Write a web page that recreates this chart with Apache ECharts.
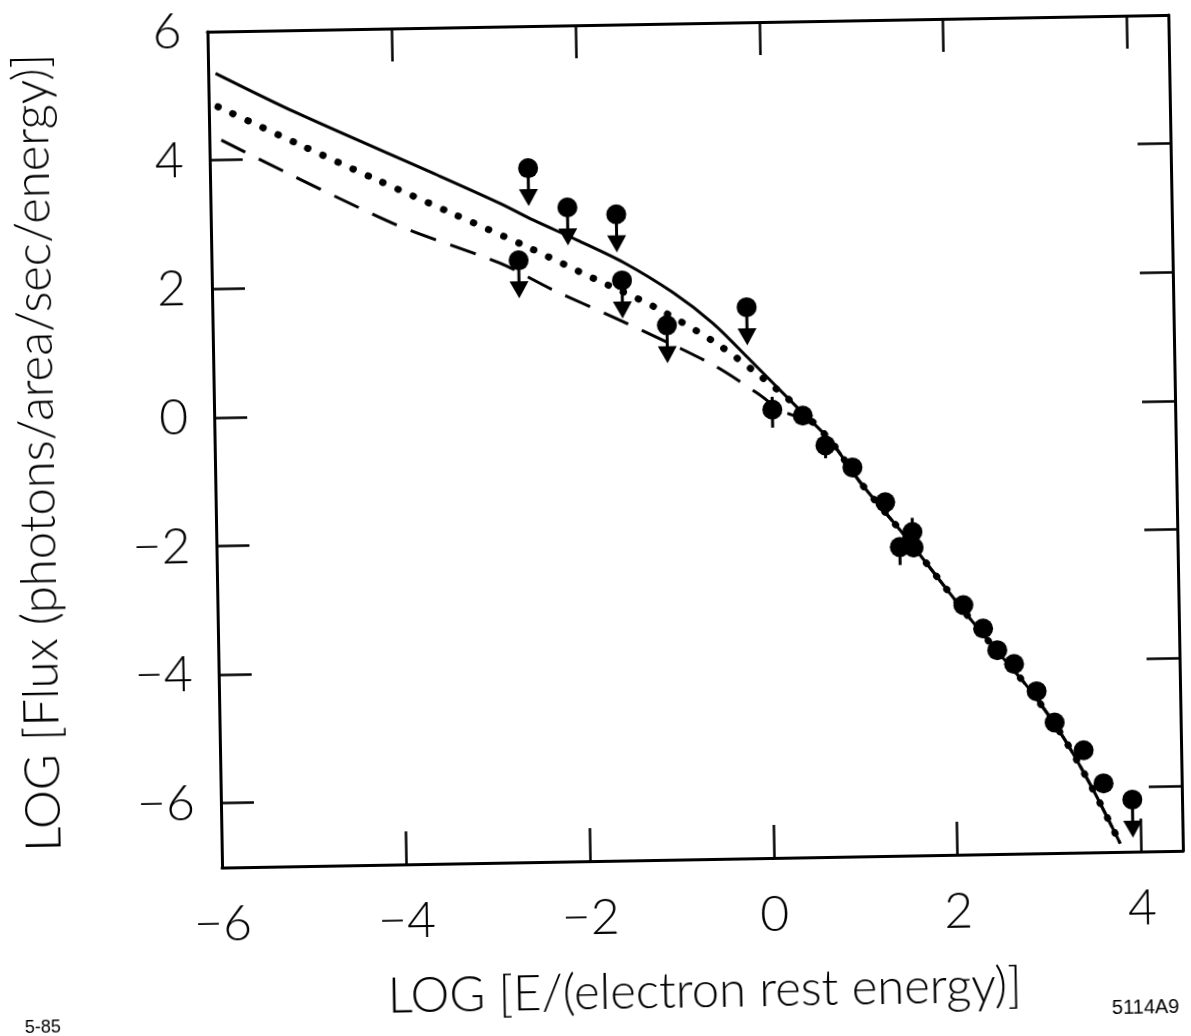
<!DOCTYPE html>
<html><head><meta charset="utf-8">
<script src="https://cdn.jsdelivr.net/npm/echarts@6/dist/echarts.min.js"></script>
<style>
html,body{margin:0;padding:0;background:#fff;overflow:hidden;}
#chart{width:1191px;height:1036px;transform:rotate(-1deg);transform-origin:50% 50%;}
</style></head><body><div id="chart"></div>
<script>
// Axis ticks / labels
const xTickValues = [-4, -2, 0, 2, 4];
const xLabelValues = [-6, -4, -2, 0, 2, 4];
const yTickValues = [-6, -4, -2, 0, 2, 4];
const yLabelValues = [-6, -4, -2, 0, 2, 4, 6];

// Model curves [logE, logFlux]
const solidCurve = [[-5.92,5.35],[-5.04,4.71],[-3.53,3.71],[-2.85,3.25],[-2.49,2.98],[-2.02,2.66],[-1.52,2.30],[-0.99,1.82],[-0.56,1.33],[-0.19,0.79],[0.34,0.0],[0.69,-0.52],[1.01,-1.18],[1.51,-2.07],[2.08,-3.15],[2.43,-3.78],[2.82,-4.46],[3.17,-5.20],[3.49,-6.04],[3.77,-6.87]];
const dottedCurve = [[-5.90,4.83],[-5.05,4.24],[-4.20,3.66],[-3.36,3.10],[-2.51,2.53],[-1.85,2.06],[-1.18,1.59],[-0.54,1.03],[-0.11,0.56],[0.30,0.06],[0.69,-0.52],[1.01,-1.18],[1.51,-2.07],[2.08,-3.15],[2.43,-3.78],[2.82,-4.46],[3.17,-5.20],[3.49,-6.04],[3.77,-6.87]];
const dashedCurve = [[-5.87,4.31],[-4.02,2.97],[-2.86,2.32],[-2.29,1.89],[-1.64,1.45],[-0.60,0.71],[-0.09,0.23],[0.16,-0.04],[0.45,-0.22],[0.69,-0.52],[1.01,-1.18],[1.51,-2.07],[2.08,-3.15],[2.43,-3.78],[2.82,-4.46],[3.17,-5.20],[3.49,-6.04],[3.77,-6.87]];

// Upper limits [logE, logFlux]
const upperLimits = [[-2.54,3.79],[-2.12,3.17],[-1.59,3.05],[-2.66,2.36],[-1.54,2.02],[-1.06,1.31],[-0.19,1.57],[3.91,-6.19]];
// Detections [logE, logFlux, errUp, errDown]
const detections = [[0.07,-0.03,0.2,0.28],[0.40,-0.13,0,0],[0.64,-0.60,0,0.2],[0.93,-0.95,0,0],[1.28,-1.50,0,0],[1.57,-1.97,0.22,0],[1.43,-2.20,0,0.28],[1.58,-2.21,0,0.15],[2.11,-3.12,0,0],[2.32,-3.49,0,0],[2.47,-3.83,0,0],[2.65,-4.05,0,0],[2.89,-4.48,0,0],[3.08,-4.97,0,0],[3.39,-5.41,0,0],[3.60,-5.93,0,0]];

const FONT = 'Lato';
const fmt = v => (v < 0 ? '\u2212' + Math.abs(v) : String(v));
const axisLineStyle = {color:'#000', width:3};
const tickStyle = {color:'#000', width:2.5};

const chart = echarts.init(document.getElementById('chart'), null, {renderer:'canvas'});
chart.setOption({
  backgroundColor:'#fff',
  animation:false,
  grid:{left:216, right:14, top:25, bottom:175},
  xAxis:[{
    type:'value', min:-6, max:4.45, position:'bottom',
    name:'LOG [E/(electron rest energy)]', nameLocation:'middle', nameGap:108,
    nameTextStyle:{fontFamily:FONT, fontSize:49, fontWeight:300, color:'#000'},
    axisLine:{show:true, onZero:false, lineStyle:axisLineStyle},
    axisTick:{show:true, inside:true, length:33, lineStyle:tickStyle, customValues:xTickValues},
    axisLabel:{show:true, customValues:xLabelValues, formatter:fmt, margin:32,
      fontFamily:FONT, fontSize:50, fontWeight:300, color:'#000'},
    splitLine:{show:false}
  },{
    type:'value', min:-6, max:4.45, position:'top',
    axisLine:{show:true, onZero:false, lineStyle:axisLineStyle},
    axisTick:{show:true, inside:true, length:33, lineStyle:tickStyle, customValues:xTickValues},
    axisLabel:{show:false}, splitLine:{show:false}
  }],
  yAxis:[{
    type:'value', min:-7, max:6, position:'left',
    name:'LOG [Flux (photons/area/sec/energy)]', nameLocation:'middle', nameGap:152, nameRotate:90,
    nameTextStyle:{fontFamily:FONT, fontSize:49, fontWeight:300, color:'#000'},
    axisLine:{show:true, onZero:false, lineStyle:axisLineStyle},
    axisTick:{show:true, inside:true, length:33, lineStyle:tickStyle, customValues:yTickValues},
    axisLabel:{show:true, customValues:yLabelValues, formatter:fmt, margin:26,
      fontFamily:FONT, fontSize:50, fontWeight:300, color:'#000'},
    splitLine:{show:false}
  },{
    type:'value', min:-7, max:6, position:'right',
    axisLine:{show:true, onZero:false, lineStyle:axisLineStyle},
    axisTick:{show:true, inside:true, length:33, lineStyle:tickStyle, customValues:yTickValues},
    axisLabel:{show:false}, splitLine:{show:false}
  }],
  graphic:[
    {type:'text', x:1137, y:1017, style:{text:'5114A9', fill:'#000', font:'20px "Liberation Sans"', textAlign:'center', textVerticalAlign:'middle'}},
    {type:'text', x:34, y:1018, style:{text:'5-85', fill:'#000', font:'18px "Liberation Sans"', textAlign:'center', textVerticalAlign:'middle'}}
  ],
  series:[
    {type:'line', data:solidCurve, showSymbol:false, smooth:0.3,
      lineStyle:{color:'#000', width:3}, z:3},
    {type:'line', data:dottedCurve, showSymbol:false, smooth:0.3,
      lineStyle:{color:'#000', width:7, type:[0.5,16], cap:'round'}, z:3},
    {type:'line', data:dashedCurve, showSymbol:false, smooth:0.3,
      lineStyle:{color:'#000', width:3, type:[27,15]}, z:3},
    {type:'custom', data:upperLimits, encode:{x:0,y:1}, z:5,
      renderItem:function(params, api){
        const p = api.coord([api.value(0), api.value(1)]);
        return {type:'group', children:[
          {type:'circle', shape:{cx:p[0], cy:p[1], r:10}, style:{fill:'#000'}},
          {type:'line', shape:{x1:p[0], y1:p[1], x2:p[0], y2:p[1]+24}, style:{stroke:'#000', lineWidth:3}},
          {type:'polygon', shape:{points:[[p[0]-9.5,p[1]+21],[p[0]+9.5,p[1]+21],[p[0],p[1]+38]]}, style:{fill:'#000'}}
        ]};
      }},
    {type:'custom', data:detections, encode:{x:0,y:1}, z:5,
      renderItem:function(params, api){
        const x = api.value(0), y = api.value(1), up = api.value(2), dn = api.value(3);
        const p = api.coord([x, y]);
        const children = [{type:'circle', shape:{cx:p[0], cy:p[1], r:10}, style:{fill:'#000'}}];
        if (up > 0) { const t = api.coord([x, y+up]); children.push({type:'line', shape:{x1:p[0], y1:p[1], x2:t[0], y2:t[1]}, style:{stroke:'#000', lineWidth:3}}); }
        if (dn > 0) { const b = api.coord([x, y-dn]); children.push({type:'line', shape:{x1:p[0], y1:p[1], x2:b[0], y2:b[1]}, style:{stroke:'#000', lineWidth:3}}); }
        return {type:'group', children:children};
      }}
  ]
});
</script></body></html>
